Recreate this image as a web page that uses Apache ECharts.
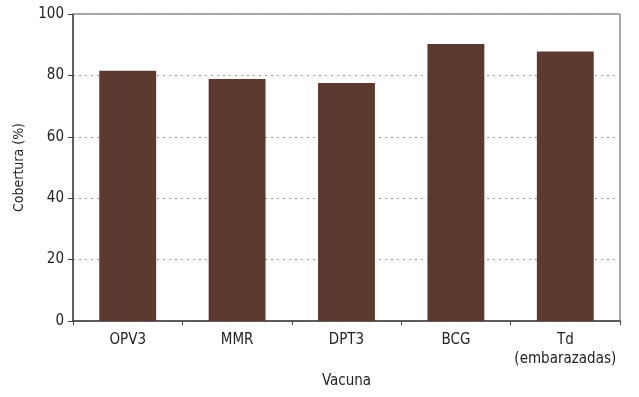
<!DOCTYPE html>
<html>
<head>
<meta charset="utf-8">
<script src="https://cdn.jsdelivr.net/npm/echarts@6/dist/echarts.min.js"></script>
<style>
  html, body { margin: 0; padding: 0; background: #fff; }
  #main { width: 639px; height: 397px; }
</style>
</head>
<body>
<div id="main"></div>
<script>
var vacunas = ['OPV3', 'MMR', 'DPT3', 'BCG', 'Td\n(embarazadas)'];
var cobertura = [81.5, 78.8, 77.5, 90.2, 87.8];

var fontFam = '"DejaVu Sans Condensed", "Liberation Sans Narrow", sans-serif';
var chartDom = document.getElementById('main');
var myChart = echarts.init(chartDom);
var option;

option = {
    backgroundColor: '#fff',
    animation: false,
    grid: {
        left: 73,
        right: 19,
        top: 14,
        bottom: 76,
        show: true,
        borderColor: '#555',
        borderWidth: 1
    },
    xAxis: {
        type: 'category',
        data: vacunas,
        name: 'Vacuna',
        nameLocation: 'middle',
        nameGap: 53,
        nameTextStyle: { fontFamily: fontFam, fontSize: 15, color: '#222' },
        axisLine: { lineStyle: { color: '#444', width: 1.5 } },
        axisTick: { show: true, length: 4, lineStyle: { color: '#444' } },
        axisLabel: {
            interval: 0,
            fontFamily: fontFam, fontSize: 15, color: '#222',
            margin: 10, lineHeight: 19
        }
    },
    yAxis: {
        type: 'value',
        min: 0,
        max: 100,
        interval: 20,
        name: 'Cobertura (%)',
        nameLocation: 'middle',
        nameGap: 47,
        nameTextStyle: { fontFamily: fontFam, fontSize: 14, color: '#222' },
        axisLine: { show: true, lineStyle: { color: '#444', width: 1.5 } },
        axisTick: { show: true, length: 5, lineStyle: { color: '#444' } },
        axisLabel: { fontFamily: fontFam, fontSize: 15, color: '#222', margin: 9 },
        splitLine: { lineStyle: { type: [2, 4], color: '#999' } }
    },
    series: [{
        type: 'bar',
        data: cobertura,
        barWidth: '52%',
        itemStyle: { color: '#5c3a30' }
    }]
};

option && myChart.setOption(option);
</script>
</body>
</html>
